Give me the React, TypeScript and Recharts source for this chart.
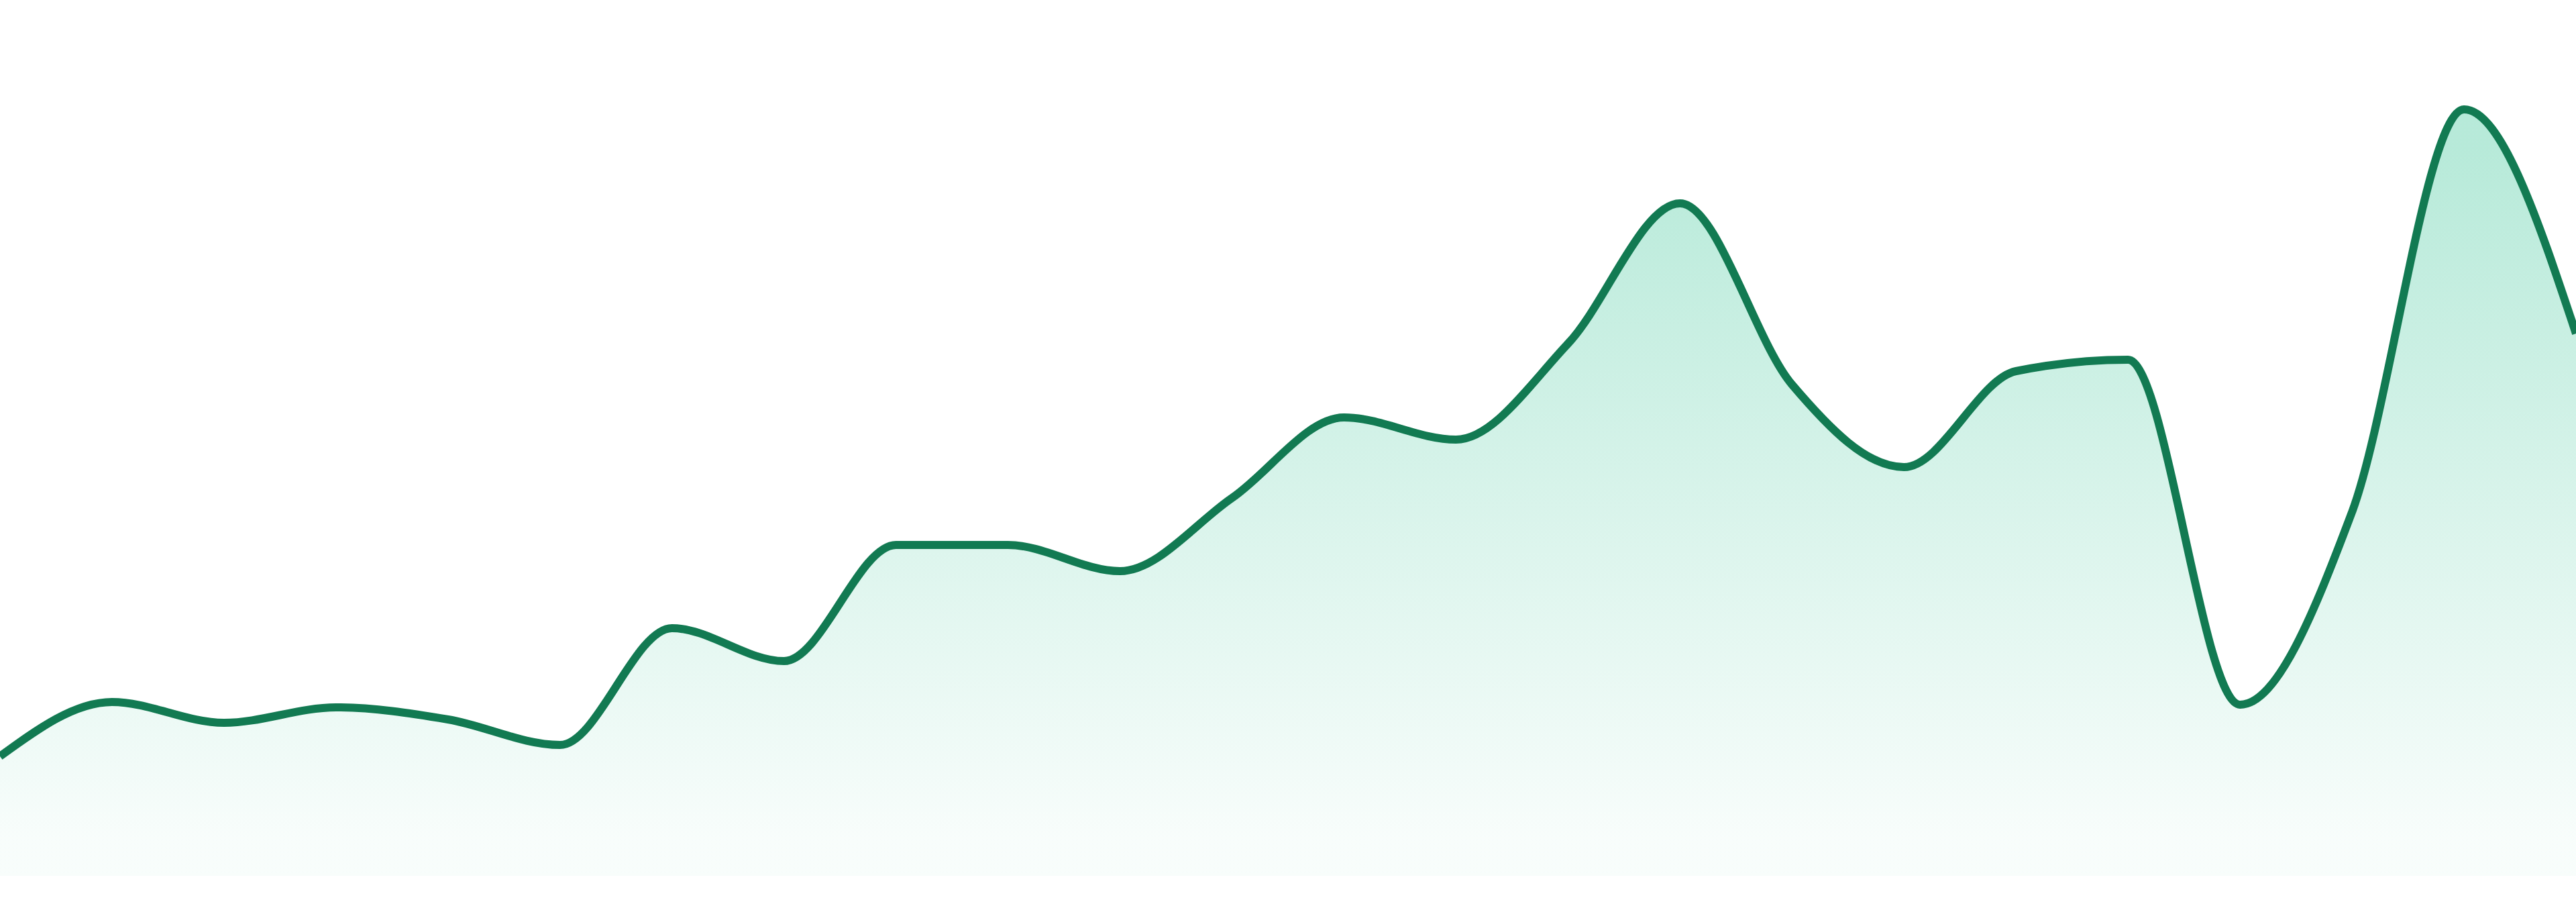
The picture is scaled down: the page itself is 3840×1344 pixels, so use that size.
import { AreaChart, Area, XAxis, YAxis } from 'recharts'

// one point per day, no axis labels are shown in the chart
const days = [
  'D1', 'D2', 'D3', 'D4', 'D5', 'D6', 'D7', 'D8', 'D9', 'D10', 'D11', 'D12',
  'D13', 'D14', 'D15', 'D16', 'D17', 'D18', 'D19', 'D20', 'D21', 'D22', 'D23', 'D24',
]

const values = [
  178, 259, 228, 251, 233, 195, 369, 320, 493, 493, 454, 563,
  683, 650, 793, 1002, 732, 609, 752, 769, 255, 542, 1142, 808,
]

const chartData = days.map((day, i) => ({ day, value: values[i] }))

const CHART_WIDTH = 3840
const CHART_HEIGHT = 1305

export default function App() {
  return (
    <div style={{ position: 'absolute', left: 0, top: 0, background: 'white' }}>
      <AreaChart
        width={CHART_WIDTH}
        height={CHART_HEIGHT}
        data={chartData}
        margin={{ top: 0, right: 0, bottom: 0, left: 0 }}
      >
        <defs>
          <linearGradient id="fillGreen" x1="0" y1="0" x2="0" y2="1">
            <stop offset="5%" stopColor="#10b981" stopOpacity={0.3} />
            <stop offset="95%" stopColor="#10b981" stopOpacity={0.03} />
          </linearGradient>
        </defs>
        <XAxis dataKey="day" hide />
        <YAxis hide domain={[0, CHART_HEIGHT]} />
        <Area
          type="monotone"
          dataKey="value"
          stroke="#127a52"
          strokeWidth={12}
          fill="url(#fillGreen)"
          fillOpacity={1}
          isAnimationActive={false}
          dot={false}
          activeDot={false}
        />
      </AreaChart>
    </div>
  )
}
